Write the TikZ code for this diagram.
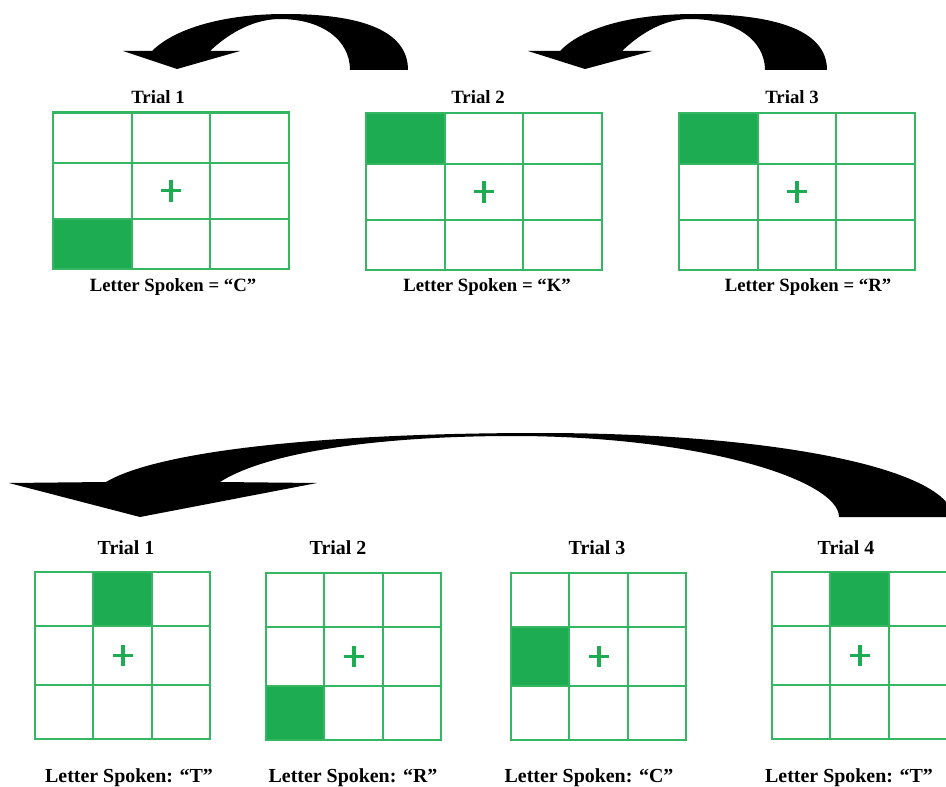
\documentclass[tikz,border=0pt]{standalone}
\usepackage{fontspec}
\setmainfont{Liberation Serif}
\definecolor{cellgreen}{RGB}{30,172,82}
\definecolor{linegreen}{RGB}{52,182,98}

\begin{document}
\begin{tikzpicture}[x=0.03cm, y=-0.03cm,
    gridline/.style={draw=linegreen, line width=0.06cm},
    crossline/.style={draw=cellgreen, line width=0.1cm},
    toplabel/.style={font=\fontsize{16}{19}\selectfont\bfseries},
    botlabel/.style={font=\fontsize{17}{20}\selectfont\bfseries}]

    \useasboundingbox (0,0) rectangle (946,787);
    \clip (0,0) rectangle (946,787);

    % curved arrows, top row
    \fill[black] (408,70) .. controls (408,30) and (360,14) .. (285,14)
      .. controls (225,14) and (175,28) .. (152,51) -- (123,51) -- (177,69) -- (240,51) -- (210,51)
      .. controls (230,32) and (255,19) .. (280,19)
      .. controls (322,19) and (350,40) .. (350,70) -- cycle;
    \fill[black] (827,70) .. controls (827,30) and (775,14) .. (695,14)
      .. controls (630,14) and (582,28) .. (560,51) -- (528,51) -- (585,69) -- (652,51) -- (622,51)
      .. controls (642,32) and (665,19) .. (690,19)
      .. controls (735,19) and (765,40) .. (765,70) -- cycle;

    % top row grids
    \foreach \gx/\gy/\fx/\fy in {53/112.5/0/106, 366/113.5/0/0, 679/113.5/0/0} {
      \begin{scope}[shift={(\gx,\gy)}]
        \fill[cellgreen] (\fx,\fy) rectangle ++(79,50);
        \draw[gridline] (0,0) rectangle (236,156);
        \foreach \x in {79,157} \draw[gridline] (\x,0) -- (\x,156);
        \foreach \y in {50,106} \draw[gridline] (0,\y) -- (236,\y);
        \draw[crossline] (108,78) -- (128,78) (118,67) -- (118,89);
      \end{scope}
    }

    \node[toplabel] (ttop1) at (158,97) {Trial 1};
    \node[toplabel] (ttop2) at (478,97) {Trial 2};
    \node[toplabel] (ttop3) at (792,97) {Trial 3};
    \node[toplabel] (stop1) at (173,287) {Letter Spoken = “C”};
    \node[toplabel] (stop2) at (487,287) {Letter Spoken = “K”};
    \node[toplabel] (stop3) at (808,287) {Letter Spoken = “R”};

    % long curved arrow, bottom row
    \fill[black] (953,517) .. controls (950,470) and (780,433) .. (540,433)
      .. controls (330,433) and (160,450) .. (106,482) -- (9,483) -- (140,517) -- (317,483) -- (220,482)
      .. controls (270,450) and (390,436) .. (513,436)
      .. controls (700,436) and (839,480) .. (839,517) -- cycle;

    % bottom row grids
    \foreach \gx/\gy/\fx/\fy/\fh in {35/572/58/0/54, 266/573/0/113/54, 511/573/0/54/59, 772/572/58/0/54} {
      \begin{scope}[shift={(\gx,\gy)}]
        \fill[cellgreen] (\fx,\fy) rectangle ++(59,\fh);
        \draw[gridline] (0,0) rectangle (175,167);
        \foreach \x in {58,117} \draw[gridline] (\x,0) -- (\x,167);
        \foreach \y in {54,113} \draw[gridline] (0,\y) -- (175,\y);
        \draw[crossline] (78,83.5) -- (98,83.5) (88,73) -- (88,94);
      \end{scope}
    }

    \node[botlabel] (tbot1) at (126,548) {Trial 1};
    \node[botlabel] (tbot2) at (338,548) {Trial 2};
    \node[botlabel] (tbot3) at (597,548) {Trial 3};
    \node[botlabel] (tbot4) at (846,548) {Trial 4};
    \node[botlabel] (sbot1) at (129,778) {Letter Spoken: “T”};
    \node[botlabel] (sbot2) at (353,778) {Letter Spoken: “R”};
    \node[botlabel] (sbot3) at (589,778) {Letter Spoken: “C”};
    \node[botlabel] (sbot4) at (849,778) {Letter Spoken: “T”};
  \end{tikzpicture}
\end{document}
